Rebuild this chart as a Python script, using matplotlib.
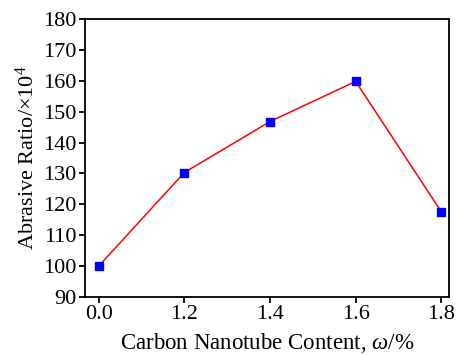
import matplotlib
matplotlib.use('Agg')
import matplotlib.pyplot as plt

plt.rcParams['font.family'] = 'Liberation Serif'
plt.rcParams['mathtext.fontset'] = 'custom'
plt.rcParams['mathtext.rm'] = 'Liberation Serif'
plt.rcParams['mathtext.it'] = 'Liberation Serif:italic'

# carbon nanotube content (wt%) and abrasive ratio (x10^4)
cnt_labels = ['0.0', '1.2', '1.4', '1.6', '1.8']
abrasive_ratio = [100.0, 130.3, 146.8, 159.8, 117.6]

txtsize = 16

fig = plt.figure(figsize=(4.58, 3.55), dpi=100)
ax = fig.add_axes([85/458, 58/355, 364/458, 278/355])

pos = list(range(len(cnt_labels)))
ax.plot(pos, abrasive_ratio, color='red', linewidth=1.1, marker='s',
        markersize=5.5, markerfacecolor='blue', markeredgecolor='blue')

ax.set_xlim(-0.16, 4.09)
ax.set_ylim(90, 180)
ax.set_xticks(pos)
ax.set_xticklabels(cnt_labels)
ax.set_yticks(range(90, 181, 10))

ax.tick_params(axis='both', direction='out', length=4, width=1.3,
               labelsize=txtsize, pad=2)
for sp in ax.spines.values():
    sp.set_linewidth(1.3)

ax.set_xlabel('Carbon Nanotube Content, $\\omega$/%', fontsize=txtsize + 0.5, labelpad=5)
ax.set_ylabel('Abrasive Ratio/$\\times$10$^4$', fontsize=txtsize, labelpad=3)

fig.savefig('out.png', dpi=100)
